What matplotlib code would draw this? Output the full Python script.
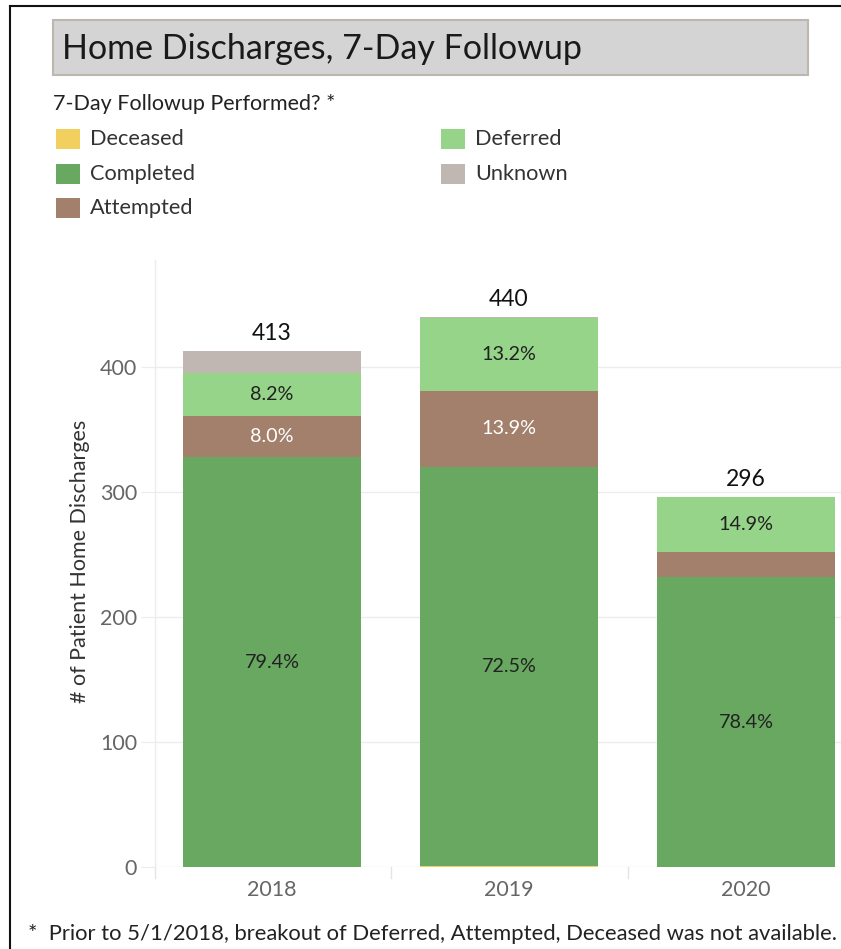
import matplotlib
matplotlib.use("Agg")
import matplotlib.pyplot as plt
from matplotlib.patches import Rectangle

plt.rcParams['font.family'] = ['Lato', 'DejaVu Sans']

years = ["2018", "2019", "2020"]
series = ["Deceased", "Completed", "Attempted", "Deferred", "Unknown"]
deceased = [0, 1, 0]
completed = [328, 319, 232]
attempted = [33, 61, 20]
deferred = [34, 58, 44]
unknown = [18, 1, 0]
totals = [413, 440, 296]
pct_labels = {
    "Completed": ["79.4%", "72.5%", "78.4%"],
    "Attempted": ["8.0%", "13.9%", ""],
    "Deferred": ["8.2%", "13.2%", "14.9%"],
}
yticks = [0, 100, 200, 300, 400]

colors = {
    "Deceased": "#f2d060",
    "Completed": "#68a860",
    "Attempted": "#a2806c",
    "Deferred": "#96d489",
    "Unknown": "#c0b6b2",
}
text_colors = {"Completed": "#222222", "Attempted": "#ffffff", "Deferred": "#222222"}
values = {"Deceased": deceased, "Completed": completed, "Attempted": attempted,
          "Deferred": deferred, "Unknown": unknown}

W, H = 841, 949
fig = plt.figure(figsize=(W / 100, H / 100), dpi=100)

def fx(px):
    return px / W

def fy(py):
    return 1 - py / H

# border lines (top, left)
fig.add_artist(plt.Line2D([fx(10), 1], [fy(6), fy(6)], color="#111111", lw=1.5))
fig.add_artist(plt.Line2D([fx(10), fx(10)], [fy(6), 0], color="#111111", lw=1.5))

# title box
fig.add_artist(Rectangle((fx(53), fy(75)), fx(808) - fx(53), fy(20) - fy(75),
                         transform=fig.transFigure, facecolor="#d4d4d4",
                         edgecolor="#bcb8ae", lw=1.5))
fig.text(fx(62), fy(49), "Home Discharges, 7-Day Followup", fontsize=24.5,
         color="#1a1a1a", va="center", ha="left")

# legend
fig.text(fx(53), fy(104), "7-Day Followup Performed? *", fontsize=15.5,
         color="#222222", va="center", ha="left")
legend_pos = [("Deceased", 53, 139), ("Completed", 53, 174), ("Attempted", 53, 208),
              ("Deferred", 438, 139), ("Unknown", 438, 174)]
for name, x0, yc in legend_pos:
    fig.add_artist(Rectangle((fx(x0 + 3), fy(yc + 10)), fx(24), fy(0) - fy(20),
                             transform=fig.transFigure, facecolor=colors[name],
                             edgecolor="none"))
    fig.text(fx(x0 + 37), fy(yc), name, fontsize=15.7, color="#333333",
             va="center", ha="left")

# axes
ax_left, ax_right, ax_top, ax_bottom = 155, 841, 260, 867
ax = fig.add_axes([fx(ax_left), fy(ax_bottom), fx(ax_right) - fx(ax_left),
                   fy(ax_top) - fy(ax_bottom)])
cat_w = 237.0
x_left = -0.5 + (ax_left - 153.5) / cat_w
ax.set_xlim(x_left, x_left + (ax_right - ax_left) / cat_w)
ax.set_ylim(0, (ax_bottom - ax_top) / 1.25)

xs = list(range(len(years)))
bottoms = [0, 0, 0]
bw = 178 / cat_w
for name in series:
    vals = values[name]
    ax.bar(xs, vals, bottom=bottoms, width=bw, color=colors[name], zorder=3,
           linewidth=0)
    if name in pct_labels:
        for i, lab in enumerate(pct_labels[name]):
            if lab:
                ax.text(xs[i], bottoms[i] + vals[i] / 2, lab, ha="center",
                        va="center", fontsize=14.2, color=text_colors[name], zorder=4)
    bottoms = [b + v for b, v in zip(bottoms, vals)]

for i, t in enumerate(totals):
    ax.annotate(str(t), (xs[i], t), xytext=(0, 12.5), textcoords="offset points",
                ha="center", va="center", fontsize=16.5, color="#111111", zorder=4)

for s in ["top", "right", "bottom"]:
    ax.spines[s].set_visible(False)
ax.spines["left"].set_color("#ececec")
ax.spines["left"].set_linewidth(1)
ax.set_yticks(yticks)
ax.set_yticklabels([str(v) for v in yticks])
ax.tick_params(axis="y", length=10, color="#ececec", labelsize=15.5,
               labelcolor="#666666", pad=3)
ax.yaxis.grid(True, color="#ececec", lw=1, zorder=0)
ax.set_xticks(xs)
ax.set_xticklabels(years)
ax.tick_params(axis="x", length=0, labelsize=15.5, labelcolor="#666666", pad=9)
ax.set_axisbelow(True)

fig.text(fx(80), fy(561), "# of Patient Home Discharges", fontsize=15.5,
         color="#333333", rotation=90, ha="center", va="center")

# category divider stubs below zero line
for xd in [x_left, 0.5, 1.5]:
    ax.plot([xd, xd], [0, -9], color="#e4e4e4", lw=1, clip_on=False, zorder=1)

fig.text(fx(28), fy(934),
         "*  Prior to 5/1/2018, breakout of Deferred, Attempted, Deceased was not available.",
         fontsize=15.8, color="#222222", va="center", ha="left")

fig.savefig("out.png", dpi=100)
